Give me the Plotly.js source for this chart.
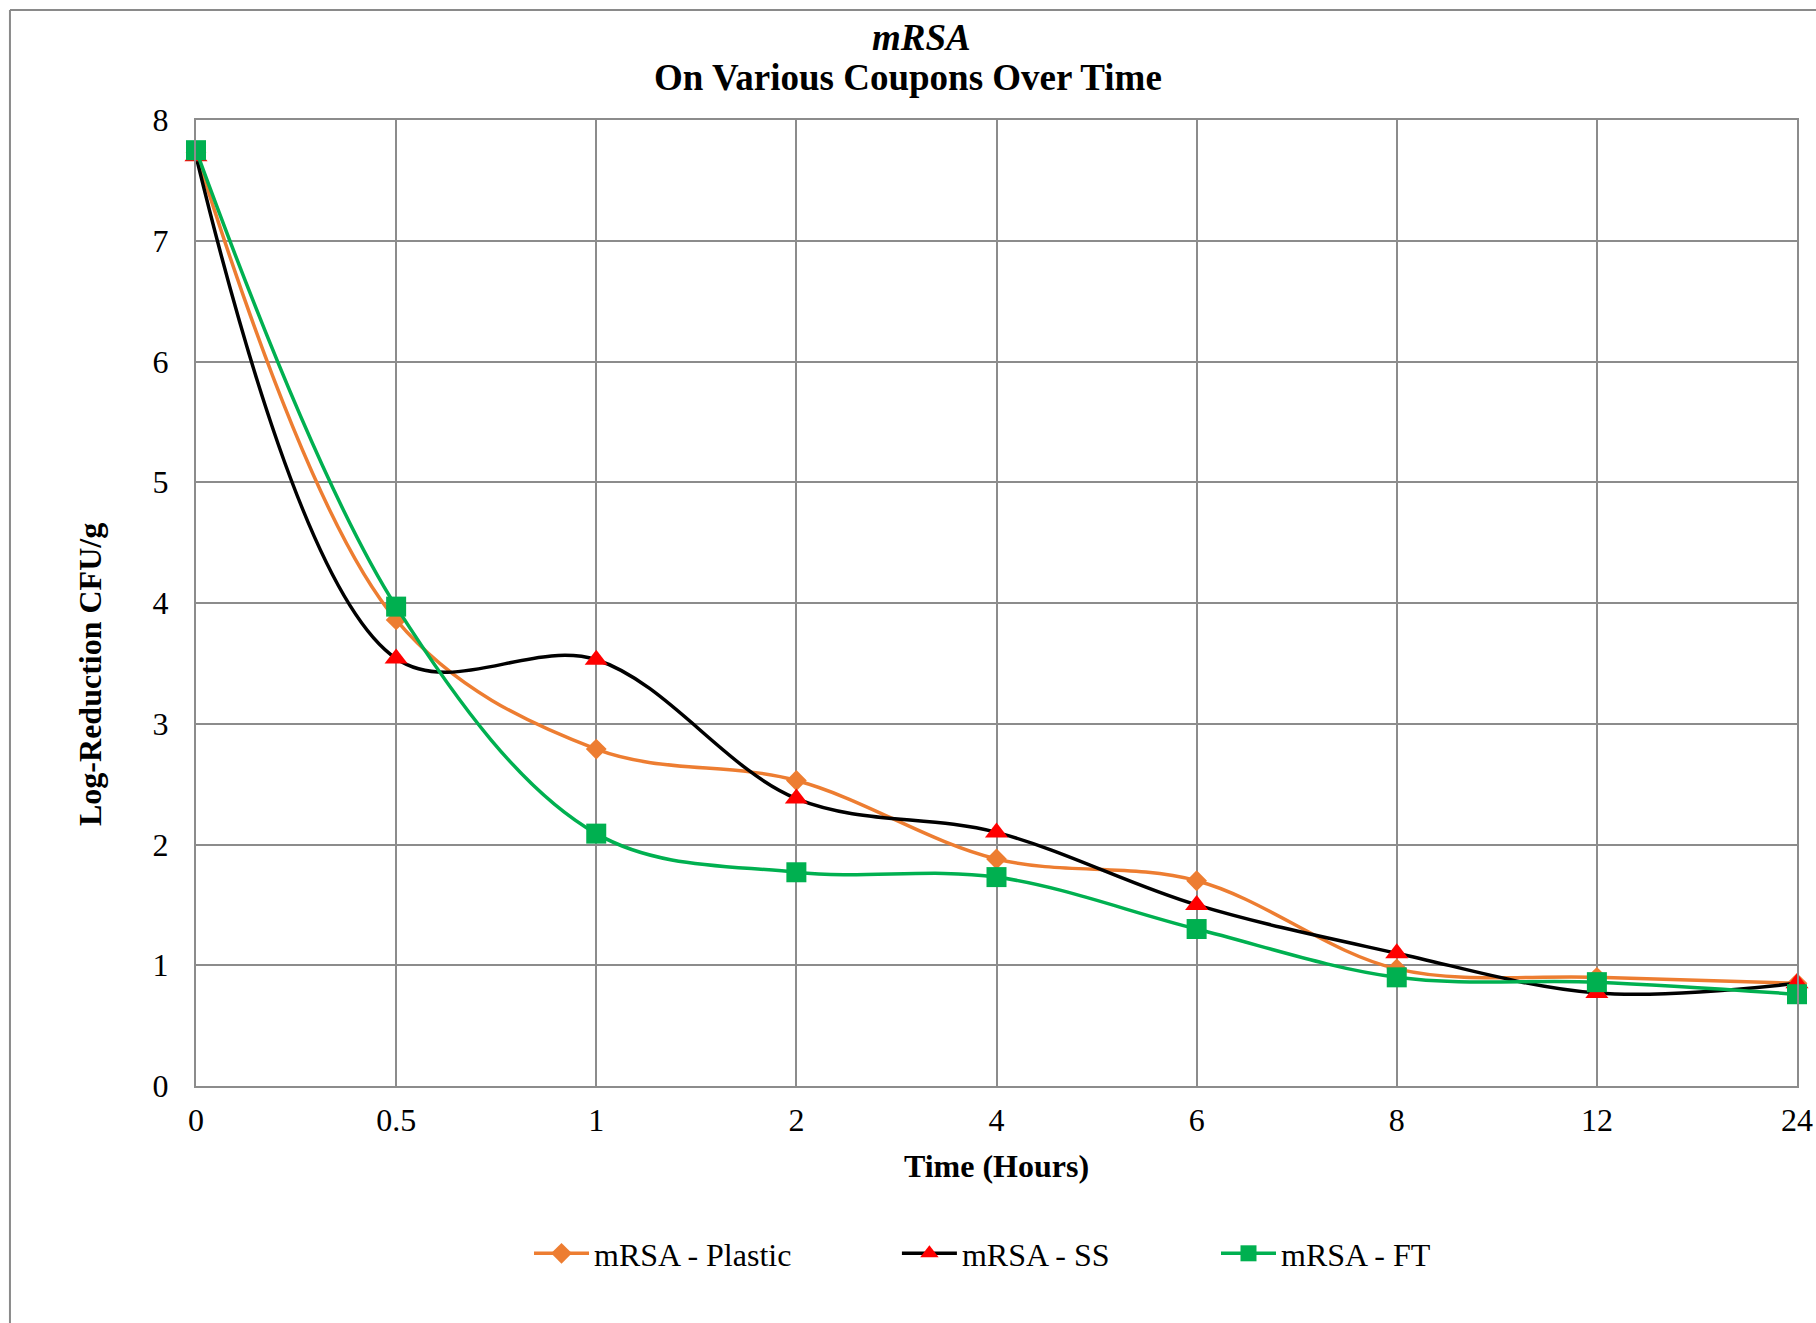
<!DOCTYPE html>
<html>
<head>
<meta charset="utf-8">
<script src="https://cdn.plot.ly/plotly-3.0.1.min.js"></script>
<style>
  html, body { margin: 0; padding: 0; background: #fff; overflow: hidden; }
  #chart { width: 1816px; height: 1323px; }
</style>
</head>
<body>
<div id="chart"></div>
<script>
// ---- data ----
var timeLabels = ['0', '0.5', '1', '2', '4', '6', '8', '12', '24'];
var plasticValues = [7.73, 3.86, 2.79, 2.53, 1.88, 1.70, 0.97, 0.90, 0.85];
var ssValues      = [7.70, 3.54, 3.53, 2.38, 2.10, 1.50, 1.10, 0.77, 0.85];
var ftValues      = [7.75, 3.97, 2.09, 1.77, 1.73, 1.30, 0.90, 0.86, 0.76];
var seriesNames = ['mRSA - Plastic', 'mRSA - SS', 'mRSA - FT'];
var titleLine1 = 'mRSA';
var titleLine2 = 'On Various Coupons Over Time';
var xTitle = 'Time (Hours)';
var yTitle = 'Log-Reduction CFU/g';

var FONT = '"Liberation Serif", "Times New Roman", serif';
var GRID = '#8c8c8c';

var traces = [
  {
    x: timeLabels, y: plasticValues, name: seriesNames[0], type: 'scatter', mode: 'lines+markers',
    line: { color: '#ED7D31', width: 3.5, shape: 'spline', smoothing: 1 },
    marker: { symbol: 'diamond', size: 16, color: '#ED7D31', line: { width: 0 } },
    cliponaxis: false, legend: 'legend'
  },
  {
    x: timeLabels, y: ssValues, name: seriesNames[1], type: 'scatter', mode: 'lines+markers',
    line: { color: '#000000', width: 3.5, shape: 'spline', smoothing: 1 },
    marker: { symbol: 'triangle-up', size: 20, color: '#FF0000', line: { width: 0 } },
    cliponaxis: false, legend: 'legend2'
  },
  {
    x: timeLabels, y: ftValues, name: seriesNames[2], type: 'scatter', mode: 'lines+markers',
    line: { color: '#00B050', width: 3.5, shape: 'spline', smoothing: 1 },
    marker: { symbol: 'square', size: 20, color: '#00B050', line: { width: 0 } },
    cliponaxis: false, legend: 'legend3'
  }
];

function legendAt(xp) {
  return {
    x: xp, y: -0.1734, xanchor: 'left', yanchor: 'middle', orientation: 'h',
    bgcolor: 'rgba(0,0,0,0)', borderwidth: 0, itemwidth: 55,
    font: { family: FONT, size: 32, color: '#000' }
  };
}

var layout = {
  width: 1816, height: 1323,
  paper_bgcolor: '#ffffff', plot_bgcolor: '#ffffff',
  margin: { l: 196, r: 19, t: 120, b: 237, pad: 0 },
  font: { family: FONT, size: 32, color: '#000' },
  showlegend: true,
  legend: legendAt(0.208),
  legend2: legendAt(0.4378),
  legend3: legendAt(0.6371),
  xaxis: {
    type: 'category', range: [0, 8],
    showgrid: true, gridcolor: GRID, gridwidth: 2,
    showline: true, linecolor: GRID, linewidth: 2, mirror: true,
    ticks: '', ticklabelstandoff: 5,
    tickfont: { family: FONT, size: 32, color: '#000' },
    title: { text: '<b>' + xTitle + '</b>', standoff: 17, font: { family: FONT, size: 32, color: '#000' } },
    fixedrange: true
  },
  yaxis: {
    range: [0, 8], dtick: 1, tick0: 0,
    showgrid: true, gridcolor: GRID, gridwidth: 2, zeroline: false,
    showline: true, linecolor: GRID, linewidth: 2, mirror: true,
    ticks: '', ticklabelstandoff: 19,
    tickfont: { family: FONT, size: 32, color: '#000' },
    fixedrange: true
  },
  annotations: [
    { text: '<b><i>' + titleLine1 + '</i></b>', xref: 'paper', yref: 'paper', x: 0.4534, y: 1.0859,
      xanchor: 'center', yanchor: 'middle', showarrow: false, font: { family: FONT, size: 37, color: '#000' } },
    { text: '<b>' + titleLine2 + '</b>', xref: 'paper', yref: 'paper', x: 0.4447, y: 1.0439,
      xanchor: 'center', yanchor: 'middle', showarrow: false, font: { family: FONT, size: 37, color: '#000' } },
    { text: '<b>' + yTitle + '</b>', xref: 'paper', yref: 'paper', x: -0.0662, y: 0.4255, textangle: -90,
      xanchor: 'center', yanchor: 'middle', showarrow: false, font: { family: FONT, size: 32, color: '#000' } }
  ],
  shapes: [
    { type: 'line', xref: 'paper', yref: 'paper', x0: -0.1162, y0: 1.1139, x1: 1.05, y1: 1.1139,
      line: { color: '#8a8a8a', width: 2 } },
    { type: 'line', xref: 'paper', yref: 'paper', x0: -0.1162, y0: 1.1139, x1: -0.1162, y1: -0.3,
      line: { color: '#8a8a8a', width: 2 } }
  ]
};

Plotly.newPlot('chart', traces, layout, { displayModeBar: false, staticPlot: true });
</script>
</body>
</html>
